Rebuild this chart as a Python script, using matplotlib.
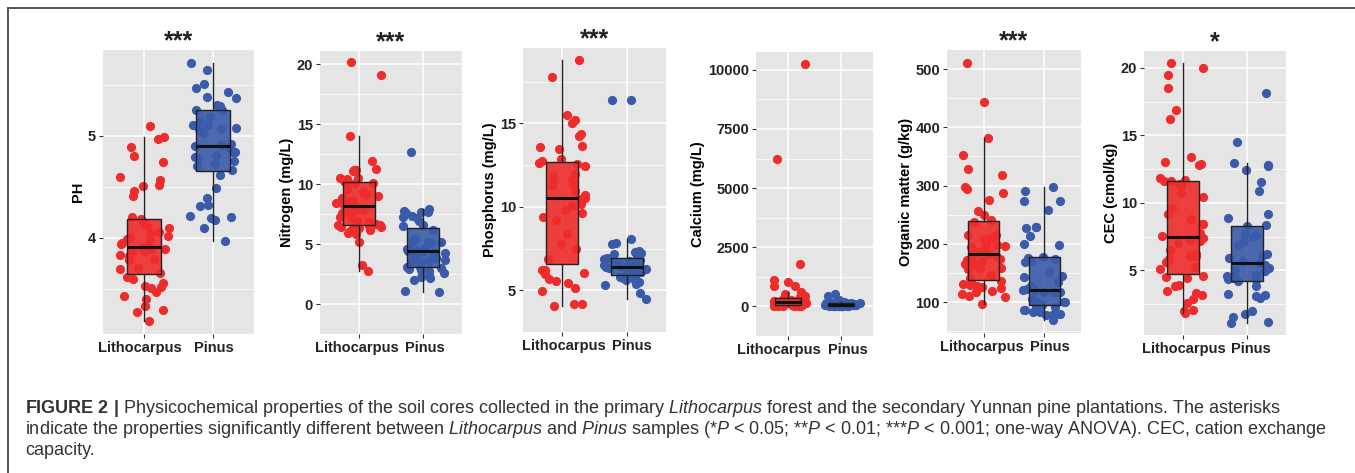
import numpy as np
import matplotlib
matplotlib.use('Agg')
import matplotlib.pyplot as plt
from matplotlib import font_manager
from matplotlib.colors import to_rgba
from matplotlib.lines import Line2D
from matplotlib.transforms import ScaledTranslation

# groups on the x axis
groups = ['Lithocarpus', 'Pinus']

# values (one list per panel and group)
ph_litho = [5.10, 4.99, 4.97, 4.89, 4.80, 4.74, 4.60, 4.57, 4.52, 4.51, 4.46, 4.41,
            4.20, 4.18, 4.15, 4.12, 4.10, 4.06, 4.05, 4.02, 4.00, 3.99, 3.98, 3.95,
            3.94, 3.91, 3.90, 3.89, 3.89, 3.88, 3.87, 3.86, 3.83, 3.82, 3.79, 3.78,
            3.70, 3.69, 3.65, 3.62, 3.60, 3.56, 3.53, 3.52, 3.51, 3.47, 3.43, 3.40,
            3.33, 3.29, 3.27, 3.18]
ph_pinus = [5.72, 5.65, 5.51, 5.47, 5.43, 5.38, 5.37, 5.30, 5.29, 5.29, 5.25, 5.25,
            5.19, 5.15, 5.11, 5.105, 5.08, 5.07, 5.07, 5.03, 4.92, 4.91, 4.90, 4.88,
            4.84, 4.84, 4.81, 4.79, 4.78, 4.75, 4.72, 4.70, 4.67, 4.62, 4.49, 4.39,
            4.32, 4.31, 4.21, 4.20, 4.19, 4.17, 4.10, 3.97]

nitrogen_litho = [20.17, 19.13, 14.04, 11.91, 11.24, 11.19, 11.17, 11.12, 10.55, 10.50,
                  10.45, 10.37, 10.30, 10.17, 10.12, 10.07, 9.63, 9.38, 9.26, 9.18,
                  9.01, 8.83, 8.64, 8.51, 8.39, 8.26, 8.19, 8.14, 8.01, 7.94, 7.82,
                  7.64, 7.57, 7.44, 7.27, 7.15, 6.95, 6.85, 6.65, 6.60, 6.55, 6.53,
                  6.45, 6.40, 6.35, 6.33, 6.15, 6.10, 5.96, 5.90, 5.83, 5.21, 3.23, 2.73]
nitrogen_pinus = [12.66, 7.94, 7.77, 7.64, 7.64, 7.59, 7.32, 7.27, 7.20, 6.90, 6.58,
                  6.53, 6.20, 5.41, 5.29, 5.21, 5.16, 5.11, 4.66, 4.62, 4.57, 4.52,
                  4.47, 4.42, 4.37, 4.29, 4.22, 4.09, 3.92, 3.80, 3.67, 3.62, 3.55,
                  3.47, 3.08, 3.05, 3.00, 2.90, 2.80, 2.73, 2.56, 2.43, 2.23, 2.13,
                  1.99, 1.07, 0.99]

phosphorus_litho = [18.80, 17.81, 15.52, 15.23, 15.04, 14.37, 14.27, 13.65, 13.61, 13.45,
                    12.88, 12.75, 12.65, 12.56, 12.46, 11.98, 11.85, 11.60, 11.51, 11.41,
                    11.22, 10.97, 10.74, 10.55, 10.46, 10.17, 10.08, 9.83, 9.64, 9.37,
                    9.22, 8.36, 7.79, 7.50, 6.90, 6.20, 6.20, 6.01, 5.97, 5.69, 5.55,
                    5.44, 5.11, 4.96, 4.16, 4.16, 4.03]
phosphorus_pinus = [16.43, 16.43, 8.07, 7.84, 7.79, 7.35, 7.31, 7.21, 7.16, 7.05, 6.95,
                    6.89, 6.83, 6.80, 6.74, 6.70, 6.64, 6.60, 6.55, 6.51, 6.51, 6.45,
                    6.40, 6.35, 6.30, 6.26, 6.20, 6.13, 6.13, 6.07, 6.01, 5.97, 5.93,
                    5.88, 5.82, 5.78, 5.74, 5.69, 5.59, 5.50, 5.40, 5.31, 4.83, 4.45]

calcium_litho = [10225, 6250, 1777, 1119, 1013, 882, 842, 619, 513, 421, 382, 290,
                 268, 252, 241, 230, 214, 205, 196, 188, 176, 163, 150, 142, 131,
                 120, 112, 104, 96, 88, 79, 70, 62, 55, 47, 40, 33, 27, 21, 15, 10, 6]
calcium_pinus = [513, 447, 290, 205, 186, 170, 158, 150, 142, 131, 125, 118, 110, 98,
                 95, 90, 84, 76, 70, 63, 60, 58, 52, 46, 41, 40, 37, 32, 28, 24, 22,
                 20, 17, 14, 11, 8, 5, 3]

organic_litho = [511, 444, 382, 353, 328, 319, 297, 295, 288, 275, 257, 249, 241, 237,
                 216, 215, 210, 208, 199, 198, 196, 194, 190, 188, 186, 182, 180, 177,
                 175, 172, 171, 166, 165, 159, 158, 157, 146, 141, 137, 135, 132, 130,
                 128, 126, 125, 119, 118, 114, 110, 109, 97]
organic_pinus = [298, 290, 274, 273, 258, 229, 229, 227, 213, 200, 199, 178, 176, 174,
                 170, 169, 152, 145, 144, 134, 128, 123, 121, 121, 118, 118, 118, 106,
                 103, 102, 100, 100, 99, 95, 93, 92, 86, 86, 83, 83, 80, 79, 78, 78, 69]

cec_litho = [20.32, 20.00, 19.45, 18.51, 16.85, 16.23, 13.42, 13.05, 12.87, 12.82,
             11.83, 11.68, 11.63, 11.63, 11.38, 11.26, 10.76, 10.44, 9.65, 9.20, 8.83,
             8.45, 8.40, 7.78, 7.52, 7.40, 7.28, 7.16, 6.99, 6.50, 6.24, 6.09, 6.04,
             5.85, 5.60, 5.25, 5.10, 4.60, 4.50, 4.43, 3.93, 3.81, 3.49, 3.31, 3.19,
             2.87, 2.57, 2.07, 2.02, 1.82]
cec_pinus = [18.14, 14.49, 12.95, 12.80, 12.70, 12.45, 11.51, 10.89, 9.15, 8.85, 8.35,
             8.28, 7.73, 7.58, 7.48, 7.16, 6.86, 6.24, 6.04, 5.92, 5.67, 5.55, 5.42,
             5.17, 5.00, 4.93, 4.68, 4.55, 4.50, 4.43, 4.36, 4.31, 4.18, 3.81, 3.24,
             3.19, 3.11, 2.94, 2.02, 1.75, 1.52, 1.20, 1.08]

red = '#EE2C2C'
blue = '#3A5BA9'

W, H = 1355, 473
plt.rcParams['font.family'] = ['Liberation Sans', 'DejaVu Sans']

fig = plt.figure(figsize=(W / 100, H / 100), dpi=100)

panels = [
    # pixel box (left, top, right, bottom), litho, pinus, ylabel, stars, ylim, ticks, label shifts
    ((103, 50, 254, 334), ph_litho, ph_pinus, 'PH', '***', (3.056, 5.843), [4, 5], (-4, 1)),
    ((320, 51, 462, 334), nitrogen_litho, nitrogen_pinus, 'Nitrogen (mg/L)', '***',
     (0.03, 21.1), [0, 5, 10, 15, 20], (-2, 2)),
    ((523, 48, 666, 332), phosphorus_litho, phosphorus_pinus, 'Phosphorus (mg/L)', '***',
     (3.30, 19.52), [5, 10, 15], (2, 5)),
    ((756, 52, 873, 336), calcium_litho, calcium_pinus, 'Calcium (mg/L)', '',
     (-474, 10752), [0, 2500, 5000, 7500, 10000], (-9, 7)),
    ((947, 50, 1081, 333), organic_litho, organic_pinus, 'Organic matter (g/kg)', '***',
     (47.3, 532.6), [100, 200, 300, 400, 500], (-2, 5)),
    ((1144, 51, 1286, 335), cec_litho, cec_pinus, 'CEC (cmol/kg)', '*',
     (0.21, 21.24), [5, 10, 15, 20], (1, 4)),
]

for k, (box, litho, pinus, ylab, stars, ylim, ticks, shifts) in enumerate(panels):
    x0, y0, x1, y1 = box
    ax = fig.add_axes([x0 / W, 1 - y1 / H, (x1 - x0) / W, (y1 - y0) / H])
    ax.set_facecolor('#E5E5E5')
    rng = np.random.default_rng(7 + k)
    for i, (vals, col) in enumerate(zip([litho, pinus], [red, blue])):
        xs = i + 1 + rng.uniform(-0.36, 0.36, len(vals))
        ax.scatter(xs, vals, s=44, color=col, lw=0, zorder=2)
    bp = ax.boxplot([litho, pinus], positions=[1, 2], widths=0.5, patch_artist=True,
                    showfliers=False, showcaps=False, whis=1.5,
                    medianprops=dict(color='#111111', lw=2.2),
                    whiskerprops=dict(color='#222222', lw=1),
                    boxprops=dict(edgecolor='#222222', lw=1))
    for patch, col in zip(bp['boxes'], [red, blue]):
        patch.set_facecolor(to_rgba(col, 0.9))
        patch.set_zorder(3)
    for ln in bp['medians'] + bp['whiskers']:
        ln.set_zorder(3.5)

    ax.set_xlim(0.4, 2.6)
    ax.set_ylim(*ylim)
    ax.set_xticks([1, 2])
    ax.set_xticklabels(groups)
    ax.set_yticks(ticks)
    step = ticks[1] - ticks[0]
    minor = np.arange(ticks[0] - step / 2, ylim[1], step)
    ax.set_yticks(minor, minor=True)
    ax.grid(which='major', color='white', lw=1.1)
    ax.grid(which='minor', axis='y', color='white', lw=0.55)
    ax.set_axisbelow(True)
    for s in ax.spines.values():
        s.set_visible(False)
    ax.tick_params(which='major', length=3, width=0.8, color='#333333',
                   labelsize=10.5, pad=2, labelcolor='#222222')
    ax.tick_params(which='minor', length=0)
    for lbl in ax.get_yticklabels():
        lbl.set_fontweight('bold')
    for lbl, dx in zip(ax.get_xticklabels(), shifts):
        lbl.set_fontweight('bold')
        lbl.set_transform(lbl.get_transform() + ScaledTranslation(dx / 100, 0, fig.dpi_scale_trans))
    ax.set_ylabel(ylab, fontsize=10.5, fontweight='bold', labelpad=2)
    if stars:
        ax.text(0.5, 1.005, stars, transform=ax.transAxes, ha='center', va='baseline',
                fontsize=18, fontweight='bold', color='#222222')

# frame around the figure
fig.add_artist(Line2D([8 / W, 8 / W], [1 - 8 / H, 0], transform=fig.transFigure,
                      color='#555555', lw=1.4))
fig.add_artist(Line2D([8 / W, 1], [1 - 8 / H, 1 - 8 / H], transform=fig.transFigure,
                      color='#555555', lw=1.4))

# caption
names = {f.name for f in font_manager.fontManager.ttflist}
cap_family = 'Liberation Sans Narrow' if 'Liberation Sans Narrow' in names else 'Liberation Sans'
plt.rcParams['mathtext.fontset'] = 'custom'
plt.rcParams['mathtext.rm'] = cap_family
plt.rcParams['mathtext.it'] = cap_family + ':italic'
plt.rcParams['mathtext.bf'] = cap_family + ':bold'

cap_lines = [
    r'$\mathbf{FIGURE\ 2\ |}$ Physicochemical properties of the soil cores collected in the primary '
    r'$\mathit{Lithocarpus}$ forest and the secondary Yunnan pine plantations. The asterisks',
    r'indicate the properties significantly different between $\mathit{Lithocarpus}$ and '
    r'$\mathit{Pinus}$ samples (*$\mathit{P}$ < 0.05; **$\mathit{P}$ < 0.01; '
    r'***$\mathit{P}$ < 0.001; one-way ANOVA). CEC, cation exchange',
    'capacity.',
]
baselines = [413, 434, 455]
texts = []
for line, yb in zip(cap_lines, baselines):
    t = fig.text(25 / W, 1 - yb / H, line, fontsize=10, family=cap_family,
                 fontweight='normal', color='#333333', ha='left', va='baseline')
    texts.append(t)
renderer = fig.canvas.get_renderer()
w = texts[0].get_window_extent(renderer).width
fs = 10 * 1260 / w
for t in texts:
    t.set_fontsize(fs)

fig.savefig('out.png', dpi=100)
